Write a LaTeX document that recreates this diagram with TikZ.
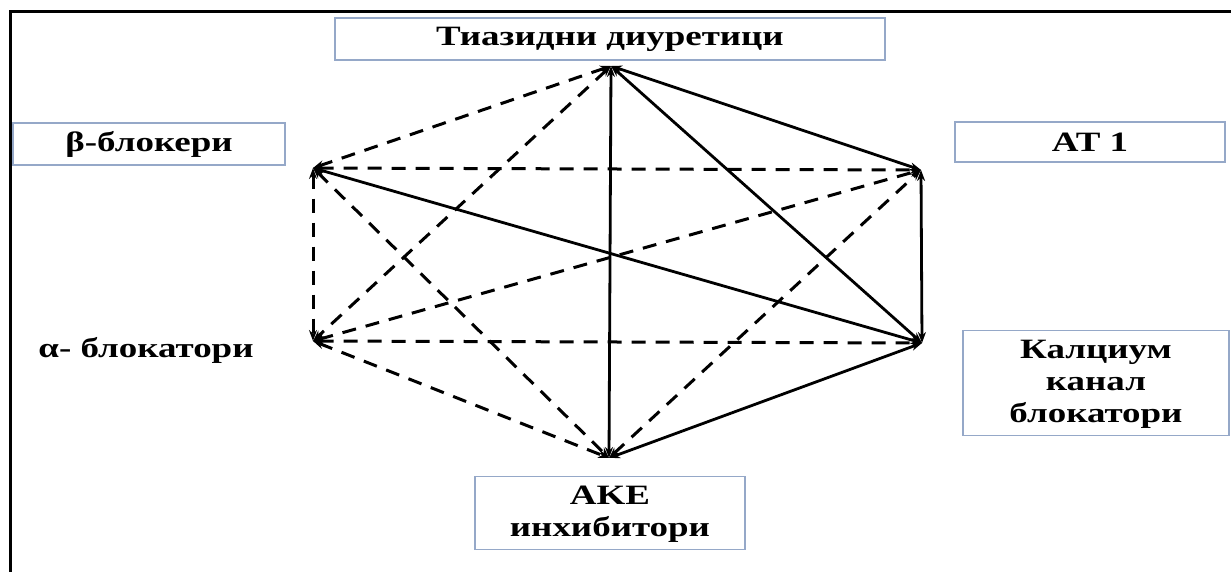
\documentclass[tikz,border=0pt]{standalone}
\usepackage{fontspec}
\setmainfont{Liberation Serif}
\usetikzlibrary{arrows.meta}
\definecolor{boxc}{HTML}{95A8C8}
\newcommand{\st}[1]{\scalebox{1.32}[1]{#1}}
\begin{document}
\begin{tikzpicture}[x=1pt,y=-1pt,
  lbl/.style={font=\bfseries\fontsize{28}{32}\selectfont, align=center, inner sep=0pt, text=black},
  box/.style={lbl, draw=boxc, line width=1.5pt, fill=white},
  tip/.style={{Stealth[length=11pt,width=8pt]}-{Stealth[length=11pt,width=8pt]}},
  sol/.style={tip, line width=2.8pt},
  das/.style={tip, line width=3pt, dash pattern=on 14pt off 10pt},
]
\useasboundingbox (0,0) rectangle (1231,572);
\fill[white] (0,0) rectangle (1231,572);
\draw[line width=3pt] (10,572) -- (10,12) -- (1231,12);

% labels
\node[box, minimum width=550pt, minimum height=42pt] (lT) at (610,39) {\st{Тиазидни диуретици}};
\node[box, minimum width=272pt, minimum height=42pt] (lB) at (149,144) {\st{β-блокери}};
\node[box, minimum width=270pt, minimum height=40pt] (lA) at (1090,142) {\st{AT 1}};
\node[box, minimum width=266pt, minimum height=105pt, text depth=4pt] (lC) at (1096,383) {\st{Калциум}\\\st{канал}\\\st{блокатори}};
\node[box, minimum width=270pt, minimum height=73pt, text depth=4pt] (lE) at (610,513) {\st{AKE}\\\st{инхибитори}};
\node[lbl] (lAl) at (146,350) {\st{α- блокатори}};

% vertices
\coordinate (T) at (611,66);
\coordinate (A) at (921,170);
\coordinate (C) at (922,343);
\coordinate (E) at (609,458);
\coordinate (Al) at (313,341);
\coordinate (B) at (313,168);

% solid edges
\draw[sol] (T) -- (E);
\draw[sol] (T) -- (A);
\draw[sol] (T) -- (C);
\draw[sol] (A) -- (C);
\draw[sol] (B) -- (C);
\draw[sol] (E) -- (C);
% dashed edges
\draw[das] (T) -- (B);
\draw[das] (T) -- (Al);
\draw[das] (B) -- (A);
\draw[das] (B) -- (Al);
\draw[das] (B) -- (E);
\draw[das] (Al) -- (A);
\draw[das] (Al) -- (C);
\draw[das] (Al) -- (E);
\draw[das] (E) -- (A);
\end{tikzpicture}
\end{document}
